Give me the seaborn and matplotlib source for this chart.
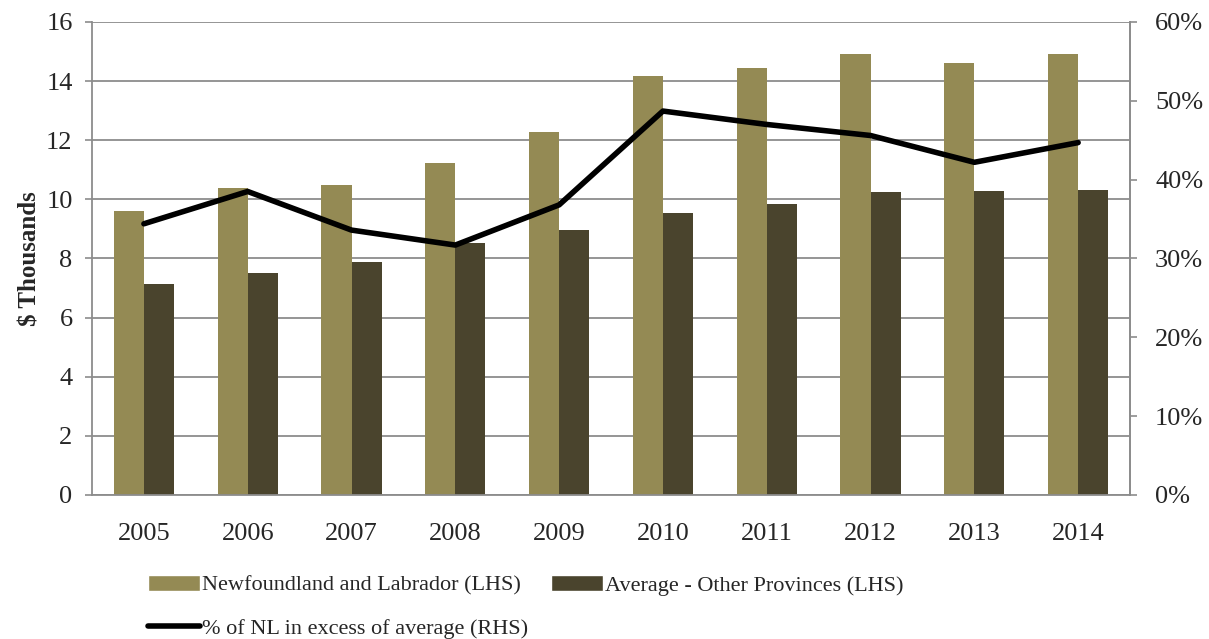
import pandas as pd
import numpy as np
import matplotlib
matplotlib.use('Agg')
import matplotlib.pyplot as plt
import seaborn as sns
from matplotlib.ticker import FuncFormatter, MultipleLocator
from matplotlib.patches import Patch
from matplotlib.lines import Line2D

# Data
years = ['2005', '2006', '2007', '2008', '2009', '2010', '2011', '2012', '2013', '2014']
nl_values = [9.60, 10.40, 10.50, 11.22, 12.27, 14.17, 14.45, 14.92, 14.60, 14.90]
other_avg = [7.13, 7.52, 7.87, 8.52, 8.97, 9.53, 9.83, 10.25, 10.27, 10.30]
pct_excess = [34.4, 38.5, 33.6, 31.7, 36.8, 48.7, 47.0, 45.6, 42.2, 44.7]

nl_label = 'Newfoundland and Labrador (LHS)'
avg_label = 'Average - Other Provinces (LHS)'
line_label = '% of NL in excess of average (RHS)'

light = '#948A54'
dark = '#4A442D'
grid_c = '#8C8C8C'

bars = pd.DataFrame({
    'Year': years * 2,
    'Value': nl_values + other_avg,
    'Series': [nl_label] * len(years) + [avg_label] * len(years),
})

sns.set_style('white')
plt.rcParams['font.family'] = ['Liberation Serif', 'DejaVu Serif']

fig = plt.figure(figsize=(12.09, 6.39), dpi=100)
ax = fig.add_axes([0.0761, 0.2254, 0.8586, 0.7402])

sns.barplot(data=bars, x='Year', y='Value', hue='Series',
            palette=[light, dark], width=0.58, ax=ax, legend=False,
            saturation=1, edgecolor='none')

ax.set_xlim(-0.5, len(years) - 0.5)
ax.set_ylim(0, 16)
ax.yaxis.set_major_locator(MultipleLocator(2))
ax.set_axisbelow(True)
ax.grid(axis='y', color=grid_c, linewidth=1.3)
ax.set_xlabel('')
ax.set_ylabel('$ Thousands', fontsize=18, fontweight='bold', labelpad=3)

# category boundary ticks on x
ax.set_xticks(np.arange(len(years)))
ax.set_xticklabels(years)
ax.set_xticks(np.arange(-0.5, len(years), 1), minor=True)
ax.tick_params(axis='x', which='major', length=0, labelsize=19, pad=20)
ax.tick_params(axis='x', which='minor', length=6, width=1.2, color=grid_c, direction='out')
ax.tick_params(axis='y', length=5, width=1.2, color=grid_c, direction='out',
               labelsize=19, pad=9)

for side in ['left', 'bottom', 'right']:
    ax.spines[side].set_color(grid_c)
    ax.spines[side].set_linewidth(1.3)
ax.spines['top'].set_visible(False)

ax2 = ax.twinx()
sns.lineplot(x=np.arange(len(years)), y=pct_excess, ax=ax2, color='black',
             linewidth=4, legend=False)
ax2.set_ylim(0, 60)
ax2.yaxis.set_major_locator(MultipleLocator(10))
ax2.yaxis.set_major_formatter(FuncFormatter(lambda v, p: f'{v:.0f}%'))
ax2.tick_params(axis='y', length=5, width=1.2, color=grid_c, direction='out',
                labelsize=19, pad=13)
for side in ['left', 'bottom', 'top']:
    ax2.spines[side].set_visible(False)
ax2.spines['right'].set_color(grid_c)
ax2.spines['right'].set_linewidth(1.3)
ax2.set_ylabel('')
ax2.grid(False)

handles = [Patch(facecolor=light, label=nl_label),
           Line2D([0], [0], color='black', linewidth=4, label=line_label),
           Patch(facecolor=dark, label=avg_label)]
fig.legend(handles=handles, ncol=2, loc='upper left', bbox_to_anchor=(0.113, 0.118),
           frameon=False, fontsize=16, handlelength=2.35, handleheight=0.75,
           handletextpad=0.1, columnspacing=1.0, labelspacing=1.0, borderpad=0)

fig.savefig('out.png', dpi=100)
